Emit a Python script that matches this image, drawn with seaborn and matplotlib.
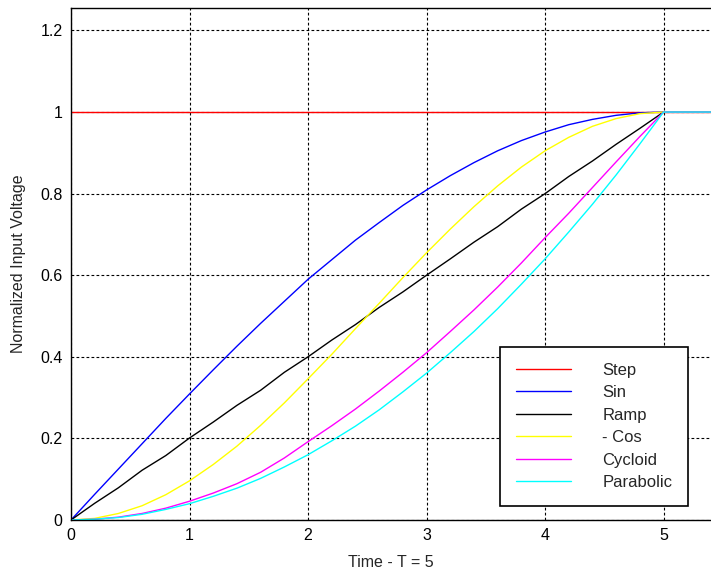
import numpy as np
import pandas as pd
import matplotlib
matplotlib.use("Agg")
import matplotlib.pyplot as plt
import seaborn as sns

# time samples (s), T = 5; after T every input stays at 1
time = [0.0, 0.2, 0.4, 0.6, 0.8, 1.0, 1.2, 1.4, 1.6, 1.8, 2.0, 2.2, 2.4,
        2.6, 2.8, 3.0, 3.2, 3.4, 3.6, 3.8, 4.0, 4.2, 4.4, 4.6, 4.8, 5.0, 5.4]

step = [1.0] * 27
sin_v = [0.0, 0.063, 0.125, 0.187, 0.249, 0.309, 0.368, 0.426, 0.482, 0.536,
         0.590, 0.638, 0.686, 0.729, 0.771, 0.809, 0.844, 0.876, 0.905, 0.930,
         0.951, 0.969, 0.982, 0.992, 0.998, 1.0, 1.0]
ramp = [0.0, 0.041, 0.079, 0.122, 0.158, 0.201, 0.240, 0.281, 0.318, 0.362,
        0.400, 0.441, 0.479, 0.521, 0.559, 0.600, 0.640, 0.681, 0.719, 0.762,
        0.800, 0.842, 0.880, 0.921, 0.960, 1.0, 1.0]
neg_cos = [0.0, 0.004, 0.016, 0.035, 0.062, 0.096, 0.136, 0.181, 0.232, 0.287,
           0.346, 0.406, 0.469, 0.531, 0.594, 0.655, 0.713, 0.768, 0.819, 0.865,
           0.905, 0.938, 0.965, 0.984, 0.996, 1.0, 1.0]
cycloid = [0.0, 0.002, 0.007, 0.016, 0.029, 0.046, 0.066, 0.089, 0.117, 0.152,
           0.192, 0.231, 0.272, 0.316, 0.362, 0.410, 0.462, 0.515, 0.571, 0.630,
           0.692, 0.752, 0.815, 0.878, 0.940, 1.0, 1.0]
parabolic = [0.0, 0.002, 0.006, 0.014, 0.026, 0.040, 0.058, 0.078, 0.102, 0.130,
             0.160, 0.194, 0.230, 0.270, 0.314, 0.360, 0.410, 0.462, 0.518, 0.578,
             0.640, 0.706, 0.774, 0.846, 0.922, 1.0, 1.0]

names = ["Step", "Sin", "Ramp", "- Cos", "Cycloid", "Parabolic"]
series = [step, sin_v, ramp, neg_cos, cycloid, parabolic]
colors = {"Step": "#ff0000", "Sin": "#0000ff", "Ramp": "#000000",
          "- Cos": "#ffff00", "Cycloid": "#ff00ff", "Parabolic": "#00ffff"}

df = pd.concat([pd.DataFrame({"t": time, "v": s, "input": n})
                for n, s in zip(names, series)], ignore_index=True)

sns.set_style("white")
plt.rcParams["font.family"] = ["Liberation Sans", "DejaVu Sans"]

fig = plt.figure(figsize=(7.11, 5.73), dpi=100)
ax = fig.add_axes([71 / 711, 1 - 520 / 573, 640 / 711, 512 / 573])

sns.lineplot(data=df, x="t", y="v", hue="input", hue_order=names,
             palette=colors, estimator=None, sort=False, linewidth=1.0,
             legend=False, ax=ax)

ax.set_xlim(0, 5.4)
ax.set_ylim(0, 1.255)
ax.set_xticks([0, 1, 2, 3, 4, 5])
ax.set_xticklabels(["0", "1", "2", "3", "4", "5"])
ax.set_yticks([0, 0.2, 0.4, 0.6, 0.8, 1.0, 1.2])
ax.set_yticklabels(["0", "0.2", "0.4", "0.6", "0.8", "1", "1.2"])
ax.grid(True, color="black", linestyle=(0, (2.5, 2)), linewidth=0.8)
ax.tick_params(direction="in", length=4, width=0.8, colors="black",
               labelsize=11.5, pad=6, top=False, right=False)
for side in ["left", "bottom", "top"]:
    ax.spines[side].set_color("black")
    ax.spines[side].set_linewidth(1.0)
ax.spines["right"].set_visible(False)

ax.set_xlabel("Time - T = 5", fontsize=11.5)
ax.set_ylabel("Normalized Input Voltage", fontsize=11.5)
ax.xaxis.set_label_coords(0.5, -0.068)
ax.yaxis.set_label_coords(-0.071, 0.5)

handles = [plt.Line2D([], [], color=colors[n], linewidth=1.0) for n in names]
leg = ax.legend(handles, names, loc="lower right",
                bbox_to_anchor=(617 / 640, 14 / 512), borderaxespad=0,
                fontsize=12, handlelength=3.3, handletextpad=1.9,
                labelspacing=0.45, borderpad=0.95, fancybox=False,
                framealpha=1, edgecolor="black")
leg.get_frame().set_linewidth(1.2)

fig.savefig("out.png", dpi=100)
